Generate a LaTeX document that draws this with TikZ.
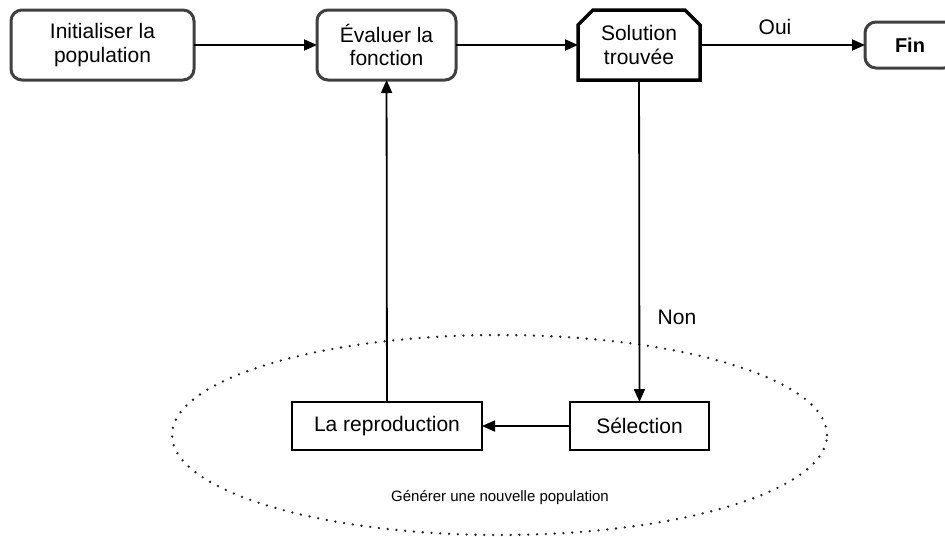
\documentclass[tikz,border=0pt]{standalone}
\usepackage{fontspec}
\setmainfont{Liberation Sans}
\usetikzlibrary{shapes.geometric,arrows.meta}
\definecolor{boxgray}{HTML}{404040}
\definecolor{dotgray}{HTML}{222222}
\begin{document}
\begin{tikzpicture}[x=1pt,y=-1pt,
  font=\fontsize{21}{23.5}\selectfont,
  roundbox/.style={draw=boxgray, line width=3pt, rounded corners=11pt,
    inner sep=0pt, outer sep=0pt, align=center, fill=white},
  testbox/.style={inner sep=0pt, outer sep=0pt, align=center},
  testedge/.style={draw=black, fill=white, line width=3.5pt, line join=miter},
  plainbox/.style={draw=black, line width=2pt, inner sep=0pt, outer sep=0pt,
    align=center, fill=white},
  flow/.style={draw=black, line width=1.8pt,
    -{Triangle[length=13pt,width=11pt]}},
  pool/.style={draw=dotgray, ellipse, line width=2.6pt, line cap=round,
    dash pattern=on 0pt off 8.8pt, inner sep=0pt},
  label/.style={inner sep=0pt}
]
\useasboundingbox (0,0) rectangle (945,536);

% group of steps that produce the next generation
\node[pool, minimum width=655pt, minimum height=200pt] (gen) at (499.5,435) {};
\node[label, font=\fontsize{15}{17}\selectfont] (gentext) at (500,498)
  {Générer une nouvelle population};

% main chain
\node[roundbox, minimum width=183pt, minimum height=70pt] (init) at (102.5,45)
  {Initialiser la\\population};
\node[roundbox, minimum width=139pt, minimum height=70pt] (eval) at (386.5,45)
  {Évaluer la\\fonction};
\node[testbox, minimum width=122pt, minimum height=70pt] (sol) at (639,45) {};
% decision box: rectangle with its two upper corners cut off
\path[testedge] (sol.south west) -- ([yshift=-15pt]sol.north west)
  -- ([xshift=15pt]sol.north west) -- ([xshift=-15pt]sol.north east)
  -- ([yshift=-15pt]sol.north east) -- (sol.south east) -- cycle;
\node[testbox, align=center] (soltext) at (sol.center) {Solution\\trouvée};
\node[roundbox, minimum width=90pt, minimum height=46pt,
  font=\bfseries\fontsize{20}{23}\selectfont] (fin) at (910,45) {Fin};

% loop steps
\node[plainbox, minimum width=190pt, minimum height=48pt] (repro) at (387,426)
  {La reproduction};
\node[plainbox, minimum width=139pt, minimum height=48pt] (sel) at (639.5,426)
  {Sélection};

% connectors
\draw[flow] (init) -- (eval);
\draw[flow] (eval) -- (sol);
\draw[flow] (sol) -- (fin);
\draw[flow] (sol) -- (sel);
\draw[flow] (sel) -- (repro);
\draw[flow] (repro) -- (eval);

% branch labels
\node[label] (oui) at (775,27) {Oui};
\node[label] (non) at (677,317) {Non};
\end{tikzpicture}
\end{document}
